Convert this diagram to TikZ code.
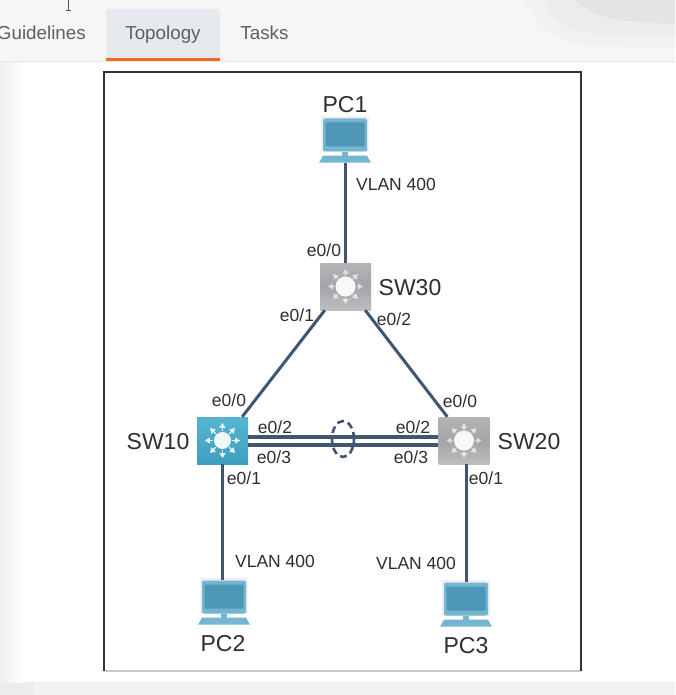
\documentclass[tikz,border=0pt]{standalone}
\usepackage{fontspec}
\setmainfont{Liberation Sans}
\usetikzlibrary{calc,shapes.geometric}
\definecolor{linkc}{HTML}{3F5673}
\definecolor{txt}{HTML}{2E2E2E}
\definecolor{tabt}{HTML}{5A6068}
\definecolor{lapa}{HTML}{74B6D0}
\definecolor{lapb}{HTML}{4F97B6}
\definecolor{halo}{HTML}{F1EFF1}
\definecolor{barbg}{HTML}{F7F6F7}
\definecolor{footbg}{HTML}{F4F1F4}
\definecolor{footl}{HTML}{ECECEC}
\definecolor{smudgea}{HTML}{F3F0F3}
\definecolor{smudgeb}{HTML}{ECEBED}
\definecolor{smudgec}{HTML}{E4E4E6}
\definecolor{sidebg}{HTML}{EFEFEF}
\definecolor{barl}{HTML}{E6E6E6}
\definecolor{tabbg}{HTML}{E6E9ED}
\definecolor{tabor}{HTML}{F26A1B}
\definecolor{curs}{HTML}{555555}
\definecolor{frb}{HTML}{C8C8C8}
\definecolor{frd}{HTML}{333333}
\definecolor{gra}{HTML}{B4B4B7}
\definecolor{grb}{HTML}{A4A4A8}
\definecolor{grc}{HTML}{BEBEC1}
\definecolor{tea}{HTML}{55B5D2}
\definecolor{teb}{HTML}{3F9FBF}
\tikzset{
  link/.style={draw=linkc,line width=3pt},
  pair/.style={draw=linkc,line width=3.4pt},
  lbl/.style={font=\fontsize{17.5pt}{20pt}\selectfont,text=txt,inner sep=0pt},
  big/.style={font=\fontsize{23pt}{26pt}\selectfont,text=txt,inner sep=0pt},
  tabl/.style={font=\fontsize{18.8pt}{20pt}\selectfont,text=tabt,inner sep=0pt},
  swbox/.style={rectangle,minimum width=51pt,minimum height=47pt,inner sep=0pt},
  graysw/.style={swbox,top color=gra,bottom color=grc,middle color=grb},
  tealsw/.style={swbox,top color=tea,bottom color=teb},
  screen/.style={rectangle,rounded corners=2pt,minimum width=44pt,minimum height=33pt,inner sep=0pt,fill=lapa},
}
% switch emblem: central disc with eight short arrows; #2 disc radius, #3 opacity of arrows
\newcommand{\swemblem}[3]{%
  \fill[white,opacity=.92] (#1) circle (#2);
  \foreach \a in {0,45,...,315}{
    \draw[white,line width=1.2pt,opacity=#3] ($(#1)+(\a:#2+1pt)$) -- ($(#1)+(\a:14pt)$);
    \fill[white,opacity=#3] ($(#1)+(\a:17.5pt)$) -- ($(#1)+(\a+14:13pt)$) -- ($(#1)+(\a-14:13pt)$) -- cycle;
  }}
% laptop: halo, lid node, inner panel, neck and base
\newcommand{\laptop}[3]{%
  \fill[halo] ($(#2,#3)+(-24,-19)$) rectangle ($(#2,#3)+(24,17)$);
  \node[screen] (#1) at (#2,#3) {};
  \fill[lapb,rounded corners=1pt] ($(#1.center)+(-19.5,-12.5)$) rectangle ($(#1.center)+(19.5,11.5)$);
  \fill[lapa] ($(#1.south)+(-3,0)$) rectangle ($(#1.south)+(3,4)$);
  \fill[lapa] ($(#1.south)+(-22,4)$) -- ($(#1.south)+(22,4)$) -- ($(#1.south)+(26,11)$) -- ($(#1.south)+(-26,11)$) -- cycle;
}
\begin{document}
\begin{tikzpicture}[x=1pt,y=-1pt]
\useasboundingbox (0,0) rectangle (675,695);
\clip (0,0) rectangle (675,695);
% page background
\fill[barbg] (0,0) rectangle (675,61);
\fill[white] (0,61) rectangle (675,682);
\fill[footbg] (0,682) rectangle (675,695);
\fill[footl] (0,682) rectangle (34,695);
\fill[smudgea] (525,0) .. controls (535,22) and (550,44) .. (600,46) -- (675,48) -- (675,0) -- cycle;
\fill[smudgeb] (545,0) .. controls (552,20) and (565,34) .. (610,34) -- (675,35) -- (675,0) -- cycle;
\fill[smudgec] (575,0) .. controls (585,10) and (600,20) .. (640,22) -- (675,24) -- (675,0) -- cycle;
\shade[left color=sidebg,right color=white] (0,62) rectangle (25,682);
\draw[barl,line width=1.2pt] (0,61.5) -- (675,61.5);
% tabs
\fill[tabbg,rounded corners=3pt] (106,9) rectangle (220,62);
\fill[tabor] (106,58) rectangle (220,61.5);
\node[tabl,anchor=base east] (tg) at (86,39.5) {Guidelines};
\node[tabl,anchor=base] (tt) at (163,39.5) {Topology};
\node[tabl,anchor=base] (tk) at (264.5,39.5) {Tasks};
% text cursor
\draw[curs,line width=.7pt] (68,0) -- (68,10) (65.5,10.5) -- (70.5,10.5);
% frame
\draw[frb,line width=1.5pt] (104,671) -- (581,671);
\draw[frd,line width=2.5pt] (104,671) -- (104,72) -- (581,72) -- (581,671);
% devices
\laptop{pc1}{345}{135}
\laptop{pc2}{224}{597}
\laptop{pc3}{466}{599}
\node[graysw] (sw30) at (345.5,286.5) {};
\node[graysw] (sw20) at (464,440.5) {};
\node[tealsw] (sw10) at (222.5,440.5) {};
\swemblem{sw30}{10pt}{.6}
\swemblem{sw20}{10pt}{.6}
\swemblem{sw10}{8.5pt}{.9}
% links
\coordinate (pc1b) at ($(pc1.south)+(0,11)$);
\coordinate (pc2t) at ([xshift=-2pt]pc2.north);
\draw[link] (pc1b) -- (pc1b |- sw30.north);
\draw[link] ([xshift=5pt]sw30.south west) -- ([xshift=-6pt]sw10.north east);
\draw[link] ([xshift=-6pt]sw30.south east) -- ([xshift=9pt]sw20.north west);
\draw[link] (pc2t |- sw10.south) -- (pc2t);
\draw[link] (pc3.north |- sw20.south) -- (pc3.north);
\draw[pair] ([yshift=-4.5pt]sw10.east) -- ([yshift=-4.5pt]sw20.west);
\draw[pair] ([yshift=3.5pt]sw10.east) -- ([yshift=3.5pt]sw20.west);
\node[draw=linkc,line width=2.6pt,ellipse,minimum width=22pt,minimum height=36pt,inner sep=0pt,dash pattern=on 7pt off 4pt] (lag) at (343,439) {};
% labels
\node[big] (lpc1) at (345,105) {PC1};
\node[big] (lpc2) at (223,644) {PC2};
\node[big] (lpc3) at (466,646) {PC3};
\node[big] (lsw30) at (410,288) {SW30};
\node[big] (lsw10) at (158,442) {SW10};
\node[big] (lsw20) at (529,442) {SW20};
\node[lbl] (v1) at (396,184) {VLAN 400};
\node[lbl] (v2) at (275,561) {VLAN 400};
\node[lbl] (v3) at (416,563) {VLAN 400};
\node[lbl] (a1) at (324,250) {e0/0};
\node[lbl] (a2) at (297,315) {e0/1};
\node[lbl] (a3) at (394,319) {e0/2};
\node[lbl] (b1) at (229,400) {e0/0};
\node[lbl] (b2) at (275,427) {e0/2};
\node[lbl] (b3) at (274,457) {e0/3};
\node[lbl] (b4) at (244,478) {e0/1};
\node[lbl] (c1) at (460,401) {e0/0};
\node[lbl] (c2) at (413,427) {e0/2};
\node[lbl] (c3) at (411,457) {e0/3};
\node[lbl] (c4) at (486,478) {e0/1};
\end{tikzpicture}
\end{document}
